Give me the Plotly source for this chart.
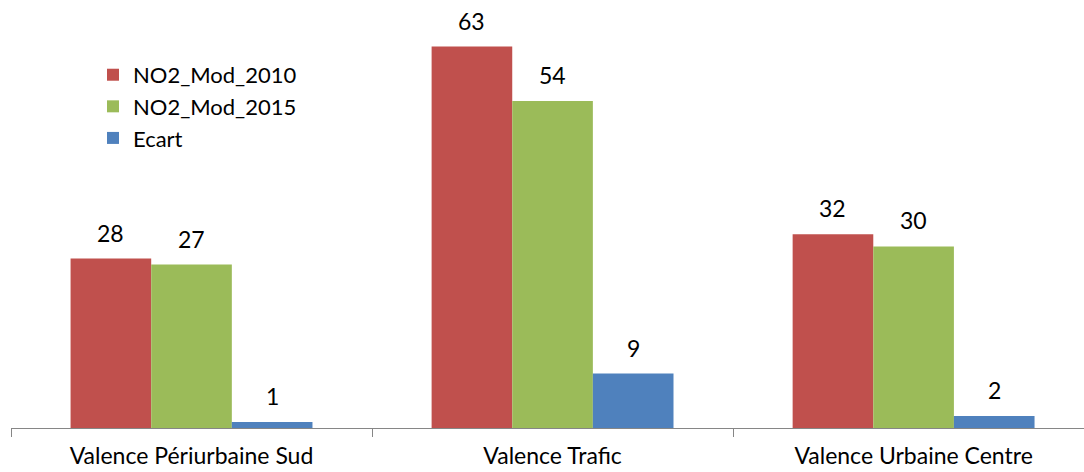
import plotly.graph_objects as go

categories = ["Valence Périurbaine Sud", "Valence Trafic", "Valence Urbaine Centre"]
no2_2010 = [28, 63, 32]
no2_2015 = [27, 54, 30]
ecart = [1, 9, 2]

series = [
    ("NO2_Mod_2010", no2_2010, "#C0504D"),
    ("NO2_Mod_2015", no2_2015, "#9BBB59"),
    ("Ecart", ecart, "#4F81BD"),
]

FONT = "Lato, 'Open Sans', sans-serif"
W, H = 1084, 472
M_L, M_R, M_T, M_B = 11, 0, 0, 44
X_RANGE = [-0.5, 2.472]
BARGAP = 0.33

# pixel width of one bar inside a group, used to centre the value labels
plot_w = W - M_L - M_R
cat_px = plot_w / (X_RANGE[1] - X_RANGE[0])
bar_px = cat_px * (1 - BARGAP) / len(series)

fig = go.Figure()
annotations = []
for i, (name, vals, color) in enumerate(series):
    fig.add_trace(go.Bar(
        x=categories, y=vals, name=name,
        marker=dict(color=color, line=dict(width=0)),
    ))
    shift = (i - (len(series) - 1) / 2) * bar_px
    for cat, v in zip(categories, vals):
        annotations.append(dict(
            x=cat, y=v, xref="x", yref="y", text=str(v),
            showarrow=False, xanchor="center", yanchor="bottom",
            xshift=shift, yshift=10,
            font=dict(size=23, color="#000000", family=FONT),
        ))

fig.update_layout(
    width=W, height=H,
    margin=dict(l=M_L, r=M_R, t=M_T, b=M_B, autoexpand=False),
    paper_bgcolor="white", plot_bgcolor="white",
    barmode="group", bargap=BARGAP, bargroupgap=0,
    font=dict(family=FONT, size=24, color="#000000"),
    legend=dict(
        x=0.0764, y=0.874, xanchor="left", yanchor="top",
        bgcolor="rgba(0,0,0,0)", font=dict(size=22, family=FONT),
        itemsizing="constant", tracegroupgap=0,
    ),
    annotations=annotations,
    showlegend=True,
)
fig.update_xaxes(
    range=X_RANGE, showline=True, linecolor="#868686", linewidth=1,
    ticks="outside", ticklen=8, tickcolor="#868686", tickson="boundaries",
    tickfont=dict(size=23, family=FONT), showgrid=False,
    ticklabelstandoff=7, automargin=False,
)
fig.update_yaxes(range=[0, 70.7], visible=False, showgrid=False,
                 zeroline=False, automargin=False)

fig.write_html("out.html")
